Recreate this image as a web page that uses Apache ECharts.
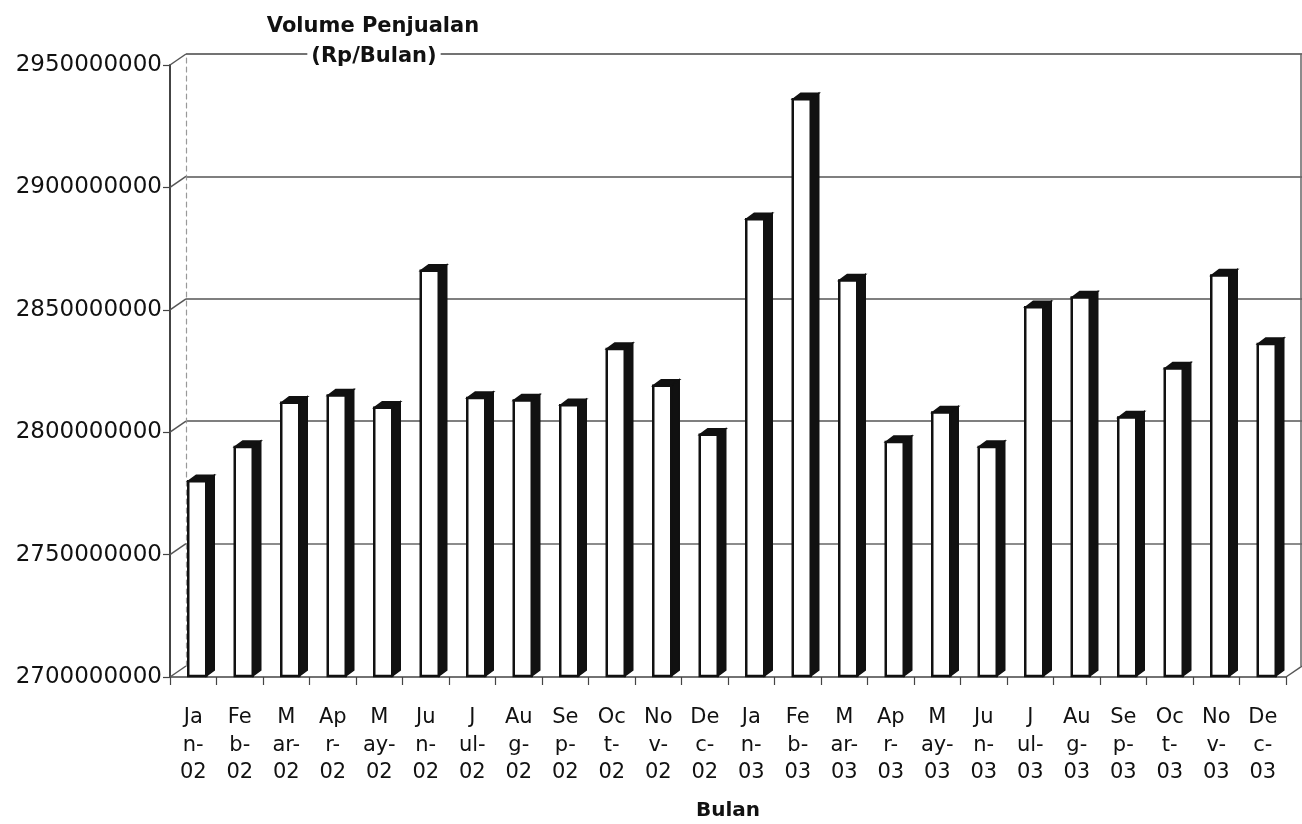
<!DOCTYPE html>
<html>
<head>
<meta charset="utf-8">
<script src="https://cdn.jsdelivr.net/npm/echarts@6/dist/echarts.min.js"></script>
<style>
  html, body { margin: 0; padding: 0; background: #fff; }
  #chart { width: 1302px; height: 824px; }
</style>
</head>
<body>
<div id="chart"></div>
<script>
// Month labels, wrapped the way the printed axis shows them
const months = [
  'Ja\nn-\n02', 'Fe\nb-\n02', 'M\nar-\n02', 'Ap\nr-\n02', 'M\nay-\n02', 'Ju\nn-\n02',
  'J\nul-\n02', 'Au\ng-\n02', 'Se\np-\n02', 'Oc\nt-\n02', 'No\nv-\n02', 'De\nc-\n02',
  'Ja\nn-\n03', 'Fe\nb-\n03', 'M\nar-\n03', 'Ap\nr-\n03', 'M\nay-\n03', 'Ju\nn-\n03',
  'J\nul-\n03', 'Au\ng-\n03', 'Se\np-\n03', 'Oc\nt-\n03', 'No\nv-\n03', 'De\nc-\n03'
];

// Monthly sales volume (Rp)
const sales = [
  2780000000, 2794000000, 2812000000, 2815000000, 2810000000, 2866000000,
  2814000000, 2813000000, 2811000000, 2834000000, 2819000000, 2799000000,
  2887000000, 2936000000, 2862000000, 2796000000, 2808000000, 2794000000,
  2851000000, 2855000000, 2806000000, 2826000000, 2864000000, 2836000000
];

// Value axis range and step
const yMin = 2700000000;
const yMax = 2950000000;
const yStep = 50000000;
const yTicks = [2700000000, 2750000000, 2800000000, 2850000000, 2900000000, 2950000000];

const FONT = 'DejaVu Sans';
const DEPTH_X = 16, DEPTH_Y = 11;   // offset of the back wall from the front axes

const chart = echarts.init(document.getElementById('chart'), null, { renderer: 'canvas' });

function barItem(params, api) {
  const top = api.coord([api.value(0), api.value(1)]);
  const base = api.coord([api.value(0), yMin]);
  const x0 = top[0] - 5, x1 = top[0] + 13;
  const t = top[1], b = base[1] - 1;
  const dx = 8, dy = 6;
  return {
    type: 'group',
    children: [
      { type: 'polygon', shape: { points: [[x1, t], [x1 + dx, t - dy], [x1 + dx, b - dy], [x1, b]] },
        style: { fill: '#111', stroke: '#111', lineWidth: 1.5 } },
      { type: 'polygon', shape: { points: [[x0, t], [x0 + dx, t - dy], [x1 + dx, t - dy], [x1, t]] },
        style: { fill: '#111', stroke: '#111', lineWidth: 1.5 } },
      { type: 'rect', shape: { x: x0, y: t, width: x1 - x0, height: b - t },
        style: { fill: '#fff', stroke: '#111', lineWidth: 2.5 } }
    ]
  };
}

// Slanted joins between the front value axis and the back wall, plus the wall edges
function wallItem(params, api) {
  const cs = params.coordSys;
  const p = api.coord([0, api.value(0)]);
  const y = p[1];
  const children = [
    { type: 'line', shape: { x1: cs.x, y1: y, x2: cs.x + DEPTH_X, y2: y - DEPTH_Y },
      style: { stroke: '#555', lineWidth: 1.5 } }
  ];
  if (api.value(0) === yMin) {
    const xr = cs.x + cs.width;
    children.push({ type: 'line', shape: { x1: xr, y1: y, x2: xr + DEPTH_X, y2: y - DEPTH_Y },
      style: { stroke: '#555', lineWidth: 1.5 } });
  }
  if (api.value(0) === yMax) {
    const xr = cs.x + cs.width + DEPTH_X;
    children.push({ type: 'line', shape: { x1: xr - 1, y1: y - DEPTH_Y, x2: xr - 1, y2: y - DEPTH_Y + cs.height },
      style: { stroke: '#666', lineWidth: 1.5 } });
  }
  return { type: 'group', children };
}

const option = {
  backgroundColor: '#fff',
  animation: false,
  grid: [
    { left: 170, right: 16, top: 65, bottom: 147, containLabel: false },
    { left: 170 + DEPTH_X, right: 0, top: 65 - DEPTH_Y, bottom: 147 + DEPTH_Y, containLabel: false }
  ],
  xAxis: [
    {
      type: 'category', gridIndex: 0, data: months, boundaryGap: true,
      axisLine: { show: true, lineStyle: { color: '#444', width: 1.5 } },
      axisTick: { show: true, length: 8, lineStyle: { color: '#444', width: 1.2 } },
      axisLabel: { interval: 0, color: '#111', fontFamily: FONT, fontSize: 21, lineHeight: 27.5, margin: 27 },
      splitLine: { show: false }
    },
    {
      type: 'category', gridIndex: 1, data: months, show: false
    }
  ],
  yAxis: [
    {
      type: 'value', gridIndex: 0, min: yMin, max: yMax, interval: yStep,
      axisLine: { show: true, lineStyle: { color: '#444', width: 2 } },
      axisTick: { show: true, length: 7, lineStyle: { color: '#444', width: 1.2 } },
      axisLabel: { color: '#111', fontFamily: FONT, fontSize: 23, margin: 8,
                   formatter: v => String(v) },
      splitLine: { show: false }
    },
    {
      type: 'value', gridIndex: 1, min: yMin, max: yMax, interval: yStep,
      axisLine: { show: true, lineStyle: { color: '#999', width: 1.2, type: [5, 4] } },
      axisTick: { show: false },
      axisLabel: { show: false },
      splitLine: { show: true, lineStyle: {
        color: ['rgba(0,0,0,0)', '#666', '#555', '#555', '#555', '#444'], width: 1.5 } }
    }
  ],
  graphic: [
    { type: 'text', z: 100, x: 373, y: 27,
      style: { text: 'Volume Penjualan', fontFamily: FONT, fontWeight: 'bold', fontSize: 21,
               fill: '#111', align: 'center', verticalAlign: 'middle' } },
    { type: 'text', z: 100, x: 374, y: 57,
      style: { text: '(Rp/Bulan)', fontFamily: FONT, fontWeight: 'bold', fontSize: 21,
               fill: '#111', align: 'center', verticalAlign: 'middle',
               backgroundColor: '#fff', padding: [2, 4] } },
    { type: 'text', z: 100, x: 728, y: 811,
      style: { text: 'Bulan', fontFamily: FONT, fontWeight: 'bold', fontSize: 20,
               fill: '#111', align: 'center', verticalAlign: 'middle' } }
  ],
  series: [
    {
      type: 'custom', name: 'wall', xAxisIndex: 0, yAxisIndex: 0, clip: false, z: 1,
      renderItem: wallItem, data: yTicks.map(v => [v]), encode: { y: 0 }, silent: true
    },
    {
      type: 'custom', name: 'Volume Penjualan', xAxisIndex: 0, yAxisIndex: 0, z: 3,
      renderItem: barItem, data: sales.map((v, i) => [i, v]), encode: { x: 0, y: 1 }
    }
  ]
};

chart.setOption(option);
</script>
</body>
</html>
